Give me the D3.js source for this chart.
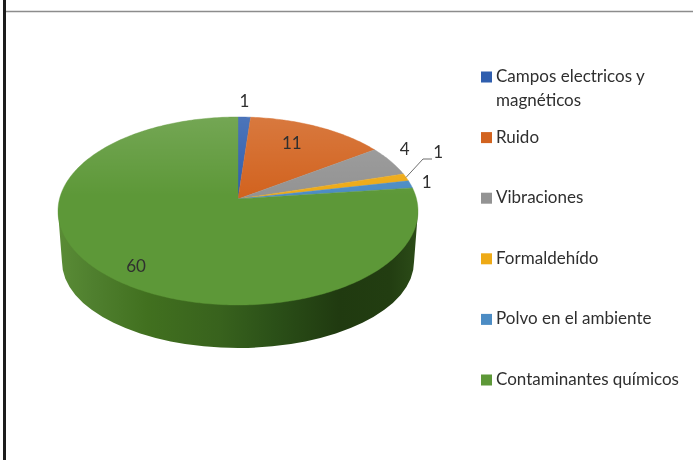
<!DOCTYPE html>
<html>
<head>
<meta charset="utf-8">
<script src="https://cdn.jsdelivr.net/npm/d3@7"></script>
<style>
html,body{margin:0;padding:0;background:#fff;overflow:hidden}
svg{display:block;filter:blur(0.35px)}
text{font-family:Lato,"Open Sans",sans-serif;fill:#2f2f2f}
</style>
</head>
<body>
<svg id="c" width="693" height="460"></svg>
<script>
const categories = ["Campos electricos y magnéticos","Ruido","Vibraciones","Formaldehído","Polvo en el ambiente","Contaminantes químicos"];
const values = [1,11,4,1,1,60];
const colors = ["#2f5eae","#d2631f","#939393","#eeaa16","#4c8cc4","#5d9838"];

const W=693,H=460;
const cx=238,cy=211,rx=180,ry=94;      // top rim ellipse
const apexY=199;                        // projected pie centre
const tilt=ry/rx;
const bx=238,by=262,brx=176,bry=86;    // bottom rim ellipse

const svg=d3.select("#c");
const defs=svg.append("defs");

// frame
svg.append("rect").attr("width",W).attr("height",H).attr("fill","#fff");
svg.append("line").attr("x1",5).attr("x2",W).attr("y1",11.5).attr("y2",11.5).attr("stroke","#8c8c8c").attr("stroke-width",1.5);
svg.append("line").attr("x1",4.5).attr("x2",4.5).attr("y1",0).attr("y2",H).attr("stroke","#1c1c1c").attr("stroke-width",3);

// pie layout through d3
const pie=d3.pie().sort(null).value(d=>d).startAngle(0).endAngle(2*Math.PI);
const arcs=pie(values);

// project a pie angle onto the tilted rim: ray from the apex to the ellipse
function rim(theta){
  const dx=Math.sin(theta),dy=-Math.cos(theta)*tilt;
  const ax=dx/rx,ay=dy/ry,c0=(apexY-cy)/ry;
  const A=ax*ax+ay*ay,B=2*ay*c0,C=c0*c0-1;
  const t=(-B+Math.sqrt(B*B-4*A*C))/(2*A);
  return [cx+dx*t,apexY+dy*t];
}
function slicePath(a){
  const n=Math.max(4,Math.ceil((a.endAngle-a.startAngle)*60));
  const pts=d3.range(n+1).map(i=>rim(a.startAngle+(a.endAngle-a.startAngle)*i/n));
  return "M"+cx+","+apexY+"L"+pts.map(p=>p.join(",")).join("L")+"Z";
}

// side wall
const wall=defs.append("linearGradient").attr("id","wall")
  .attr("gradientUnits","userSpaceOnUse").attr("x1",cx-rx).attr("x2",cx+rx).attr("y1",0).attr("y2",0);
[[0,"#5a8c36"],[0.1,"#4f7f2e"],[0.25,"#41701f"],[0.45,"#38621d"],[0.6,"#2b5018"],[0.78,"#203a10"],[0.92,"#223d11"],[1,"#2c4c18"]]
  .forEach(s=>wall.append("stop").attr("offset",s[0]).attr("stop-color",s[1]));
svg.append("path")
  .attr("d",`M${cx-rx},${cy}L${bx-brx},${by}A${brx},${bry} 0 0 0 ${bx+brx},${by}L${cx+rx},${cy}Z`)
  .attr("fill","url(#wall)");

// top face
const gTop=svg.append("g");
gTop.selectAll("path").data(arcs).join("path")
  .attr("d",slicePath)
  .attr("fill",(d,i)=>colors[i])
  .attr("stroke",(d,i)=>colors[i]).attr("stroke-width",0.4);

// soft sheen on top
const sheen=defs.append("linearGradient").attr("id","sheen").attr("x1",0).attr("x2",0).attr("y1",0).attr("y2",1);
sheen.append("stop").attr("offset",0).attr("stop-color","#fff").attr("stop-opacity",0.14);
sheen.append("stop").attr("offset",0.42).attr("stop-color","#fff").attr("stop-opacity",0);
svg.append("ellipse").attr("cx",cx).attr("cy",cy).attr("rx",rx).attr("ry",ry).attr("fill","url(#sheen)");

// data labels, placed relative to each slice's rim midpoint
const labelOffset=[[0,-17],[-26,16],[14,-13],[32,-26],[16,-3],[-4,0]];
const labelPos=arcs.map((a,i)=>{
  const p=rim((a.startAngle+a.endAngle)/2);
  return [p[0]+labelOffset[i][0],p[1]+labelOffset[i][1]];
});
// the big slice sits inside the pie
labelPos[5]=[136,265];

// leader line for the Formaldehído slice
const ly=rim((arcs[3].startAngle+arcs[3].endAngle)/2);
svg.append("path").attr("fill","none").attr("stroke","#6e6e6e").attr("stroke-width",1)
  .attr("d",d3.line()([ly,[423,159],[432,159]]));

svg.append("g").selectAll("text").data(values).join("text")
  .attr("x",(d,i)=>labelPos[i][0]).attr("y",(d,i)=>labelPos[i][1])
  .attr("text-anchor","middle").attr("dominant-baseline","central")
  .attr("font-size",17)
  .text(d=>d);

// legend
const ly0=d3.scalePoint().domain(categories).range([77,380]);
const legend=svg.append("g").selectAll("g").data(categories).join("g")
  .attr("transform",d=>`translate(481,${ly0(d)})`);
legend.append("rect").attr("x",0).attr("y",-5.5).attr("width",11).attr("height",11)
  .attr("fill",(d,i)=>colors[i]);
legend.append("text").attr("x",15).attr("y",0).attr("font-size",17).each(function(d){
  const t=d3.select(this),words=d.split(" ");
  let line=[],ts=t.append("tspan").attr("x",15).attr("dy",5);
  words.forEach(w=>{
    line.push(w);ts.text(line.join(" "));
    if(ts.node().getComputedTextLength()>192){
      line.pop();ts.text(line.join(" "));
      line=[w];
      ts=t.append("tspan").attr("x",15).attr("dy",24).text(w);
    }
  });
});
</script>
</body>
</html>
